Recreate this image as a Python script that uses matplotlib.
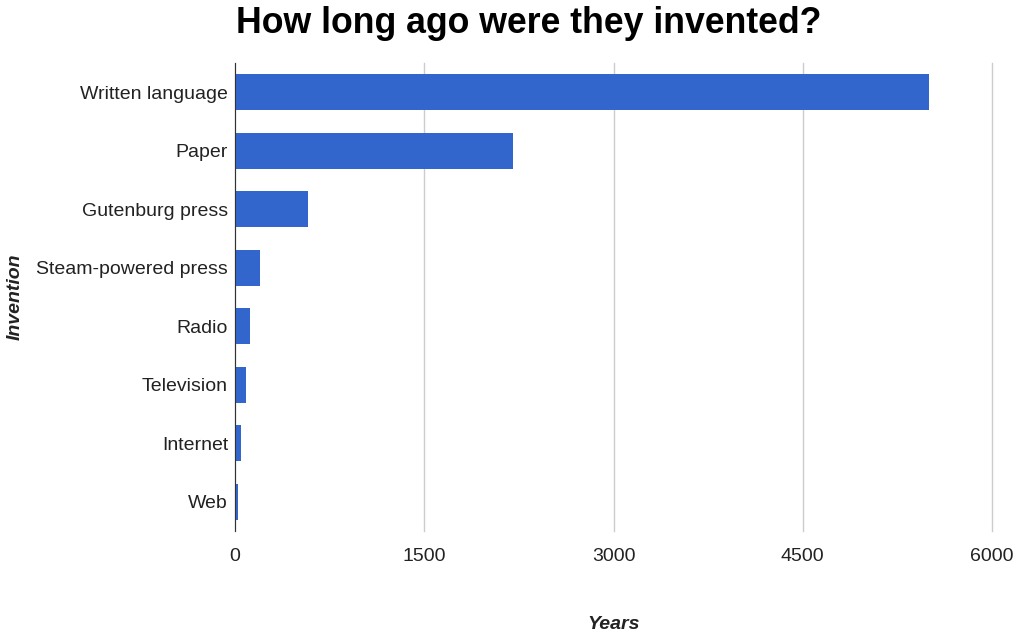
import matplotlib
matplotlib.use("Agg")
import matplotlib.pyplot as plt

inventions = ["Written language", "Paper", "Gutenburg press", "Steam-powered press",
              "Radio", "Television", "Internet", "Web"]
years_ago = [5500, 2200, 575, 200, 119, 88, 45, 25]
x_ticks = [0, 1500, 3000, 4500, 6000]

plt.rcParams['font.family'] = ['Liberation Sans', 'DejaVu Sans']

fig = plt.figure(figsize=(10.28, 6.33), dpi=100)
ax = fig.add_axes([235 / 1028, 1 - 531 / 633, (992 - 235) / 1028, (531 - 63) / 633])

pos = list(range(len(inventions)))
ax.barh(pos, years_ago, height=0.62, color='#3366CC', zorder=3)
ax.set_ylim(len(inventions) - 0.5, -0.5)
ax.set_xlim(0, 6000)
ax.set_yticks(pos)
ax.set_yticklabels(inventions, fontsize=14, color='#222222')
ax.set_xticks(x_ticks)
ax.set_xticklabels([str(t) for t in x_ticks], fontsize=14, color='#222222')
ax.tick_params(length=0)
ax.tick_params(axis='y', pad=5)
ax.tick_params(axis='x', pad=12)

ax.grid(axis='x', color='#cccccc', linewidth=1, zorder=0)
for line in ax.get_xgridlines():
    line.set_clip_on(False)
for s in ['top', 'right', 'bottom']:
    ax.spines[s].set_visible(False)
ax.spines['left'].set_color('#333333')
ax.spines['left'].set_zorder(4)

ax.set_xlabel('Years', fontsize=14, fontweight='bold', style='italic', color='#222222', labelpad=37)
ax.set_ylabel('Invention', fontsize=14, fontweight='bold', style='italic', color='#222222')
ax.yaxis.set_label_coords((24 - 235) / 757, 0.5)

fig.text(236 / 1028, 1 - 33 / 633, 'How long ago were they invented?', fontsize=25.7,
         fontweight='bold', ha='left', va='baseline', color='#000000')

fig.savefig('out.png', dpi=100)
